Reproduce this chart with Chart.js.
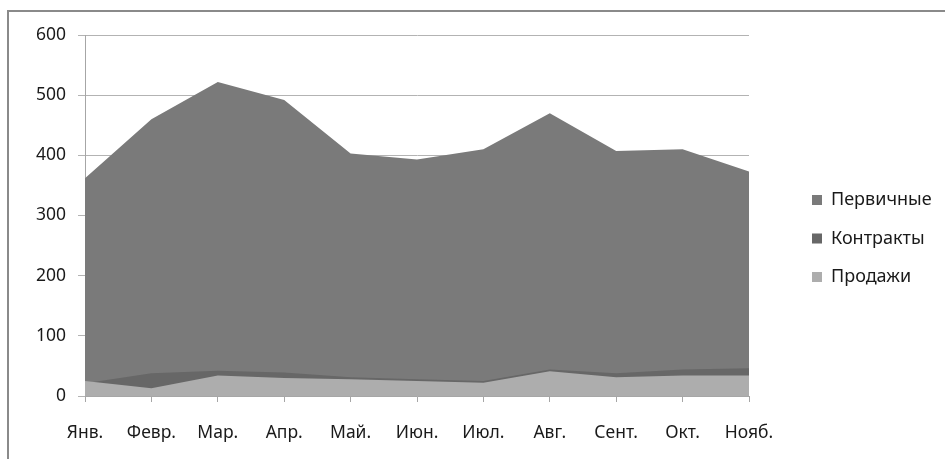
<!DOCTYPE html>
<html>
<head>
<meta charset="utf-8">
<script src="https://cdn.jsdelivr.net/npm/chart.js@4.4.1/dist/chart.umd.min.js"></script>
<style>
  html, body { margin: 0; padding: 0; background: #fff; }
  #wrap { position: relative; width: 945px; height: 459px; }
  #frame { position: absolute; left: 7px; top: 10px; right: -4px; bottom: -4px;
           border-left: 2px solid #8a8a8a; border-top: 2px solid #8a8a8a; }
  canvas { position: absolute; left: 0; top: 0; }
</style>
</head>
<body>
<div id="wrap">
  <div id="frame"></div>
  <canvas id="c" width="945" height="459"></canvas>
</div>
<script>
// Monthly figures
const months = ['Янв.', 'Февр.', 'Мар.', 'Апр.', 'Май.', 'Июн.', 'Июл.', 'Авг.', 'Сент.', 'Окт.', 'Нояб.'];
const pervichnye = [362, 460, 522, 492, 403, 393, 410, 470, 407, 410, 373];
const kontrakty  = [21, 38, 42, 39, 31, 28, 25, 44, 38, 44, 46];
const prodazhi   = [25, 13, 34, 30, 28, 25, 22, 41, 31, 34, 34];
const yTicks = [0, 100, 200, 300, 400, 500, 600];

const FONT = '"Noto Sans", "DejaVu Sans", sans-serif';
const LEGEND_PAD = 20.5;

// Fixed legend column on the right: width and item origin
const legendBox = {
  id: 'legendBox',
  beforeLayout(chart) {
    const lg = chart.legend;
    if (lg && !lg._fixedFit) {
      const orig = lg.fit;
      lg.fit = function () { orig.call(this); this.width = 196; };
      lg._fixedFit = true;
    }
  },
  afterLayout(chart) {
    const lg = chart.legend;
    if (lg) {
      lg.left = 812 - LEGEND_PAD;
      lg.right = 945;
      lg.top = 191 - LEGEND_PAD;
    }
  }
};

new Chart(document.getElementById('c'), {
  type: 'line',
  data: {
    labels: months,
    datasets: [
      { label: 'Первичные', data: pervichnye, backgroundColor: '#7a7a7a', borderColor: '#7a7a7a',
        borderWidth: 0, pointRadius: 0, fill: 'origin', tension: 0, order: 3 },
      { label: 'Контракты', data: kontrakty, backgroundColor: '#676767', borderColor: '#676767',
        borderWidth: 0, pointRadius: 0, fill: 'origin', tension: 0, order: 2 },
      { label: 'Продажи', data: prodazhi, backgroundColor: '#adadad', borderColor: '#adadad',
        borderWidth: 0, pointRadius: 0, fill: 'origin', tension: 0, order: 1 }
    ]
  },
  options: {
    responsive: false,
    animation: false,
    layout: { padding: { top: 35, left: 0, right: 0, bottom: 0 } },
    plugins: {
      tooltip: { enabled: false },
      legend: {
        position: 'right',
        align: 'start',
        labels: {
          sort: (a, b) => a.datasetIndex - b.datasetIndex,
          boxWidth: 10, boxHeight: 10, padding: LEGEND_PAD,
          color: '#1a1a1a',
          font: { family: FONT, size: 18 },
          generateLabels(chart) {
            return chart.data.datasets.map((ds, i) => ({
              text: ds.label, fillStyle: ds.backgroundColor, strokeStyle: ds.backgroundColor,
              lineWidth: 0, hidden: false, datasetIndex: i, fontColor: '#1a1a1a'
            }));
          }
        }
      }
    },
    scales: {
      x: {
        type: 'category',
        offset: false,
        afterFit: s => { s.height = 63; },
        grid: { display: true, drawOnChartArea: false, drawTicks: true, tickLength: 6, color: '#a6a6a6' },
        border: { display: true, color: '#a6a6a6', width: 1 },
        ticks: { color: '#1a1a1a', font: { family: FONT, size: 17.5 }, padding: 21, maxRotation: 0, autoSkip: false }
      },
      y: {
        min: 0, max: 600,
        afterFit: s => { s.width = 85; },
        afterBuildTicks: s => { s.ticks = yTicks.map(v => ({ value: v })); },
        grid: { color: '#b3b3b3', tickLength: 7, drawTicks: true },
        border: { display: true, color: '#a6a6a6', width: 1 },
        ticks: { color: '#1a1a1a', font: { family: FONT, size: 17.5 }, padding: 12 }
      }
    }
  },
  plugins: [legendBox]
});
</script>
</body>
</html>
